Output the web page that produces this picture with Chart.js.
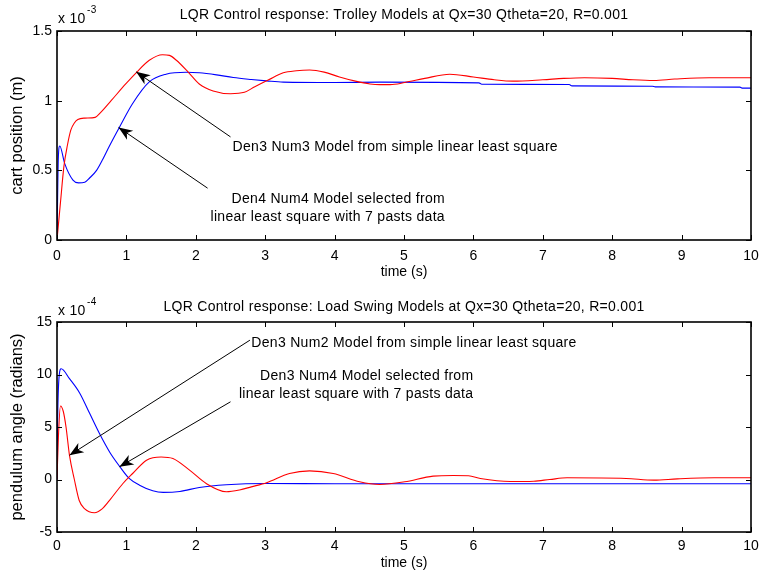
<!DOCTYPE html>
<html>
<head>
<meta charset="utf-8">
<script src="https://cdn.jsdelivr.net/npm/chart.js@4.4.0/dist/chart.umd.min.js"></script>
<style>
body{margin:0;background:#fff;}
.box{width:760px;height:287px;position:relative;}
</style>
</head>
<body>
<div class="box"><canvas id="trolley" width="760" height="287"></canvas></div>
<div class="box"><canvas id="swing" width="760" height="287"></canvas></div>
<script>
// cart position, units of 1e-3 m
const tCartRed = [0,0.05,0.1,0.15,0.2,0.25,0.3,0.4,0.55,0.62,0.78,0.99,1.14,1.33,1.52,1.62,1.72,1.9,2.05,2.25,2.5,2.7,2.85,3.05,3.26,3.45,3.64,3.85,4.07,4.3,4.51,4.65,4.8,5.01,5.3,5.66,6.0,6.3,6.57,7.0,7.3,7.6,8.0,8.3,8.6,8.9,9.4,10]
const cartRed = [0,0.27,0.53,0.68,0.79,0.84,0.865,0.875,0.88,0.91,1.0,1.12,1.2,1.29,1.33,1.325,1.29,1.2,1.12,1.07,1.05,1.06,1.1,1.15,1.2,1.215,1.22,1.205,1.17,1.14,1.12,1.115,1.115,1.13,1.16,1.19,1.17,1.15,1.14,1.15,1.16,1.165,1.16,1.15,1.145,1.155,1.165,1.165]
const tCartBlue = [0,0.02,0.04,0.11,0.23,0.31,0.4,0.47,0.57,0.66,0.75,0.9,1.09,1.33,1.57,1.86,2.05,2.3,2.54,2.8,3.02,3.26,4.0,4.65,6.08,6.12,7.38,7.42,8.58,8.62,9.84,9.88,10]
const cartBlue = [0,0.6,0.675,0.55,0.43,0.41,0.415,0.445,0.5,0.58,0.67,0.81,0.98,1.135,1.19,1.204,1.2,1.185,1.166,1.152,1.142,1.133,1.13,1.133,1.128,1.118,1.116,1.106,1.104,1.099,1.097,1.09,1.09]

// pendulum angle, units of 1e-4 rad
const tSwingRed = [0,0.02,0.05,0.09,0.13,0.18,0.25,0.32,0.4,0.54,0.65,0.76,0.95,1.09,1.29,1.5,1.67,1.91,2.15,2.44,2.63,2.8,3.02,3.35,3.64,3.98,4.36,4.65,5.01,5.42,5.71,5.93,6.1,6.53,6.87,7.1,7.35,8.2,8.6,8.94,9.47,10]
const swingRed = [0,4,7.0,6.5,5.0,2.3,0,-2.0,-2.8,-3.16,-2.8,-1.96,-0.38,0.57,1.84,2.15,2.0,0.89,-0.38,-1.17,-1.0,-0.7,-0.3,0.57,0.82,0.57,-0.22,-0.47,-0.22,0.32,0.38,0.36,0.1,-0.19,-0.16,0,0.16,0.1,-0.06,0.06,0.16,0.16]
const tSwingBlue = [0,0.01,0.03,0.06,0.18,0.33,0.47,0.61,0.76,0.9,1.04,1.19,1.38,1.53,1.77,2.05,2.44,3.02,4.0,10]
const swingBlue = [0,6,9.8,10.55,9.6,8.2,6.3,4.4,2.6,1.27,0.1,-0.54,-1.08,-1.23,-1.14,-0.76,-0.5,-0.38,-0.4,-0.41]

const xTicks = [0,1,2,3,4,5,6,7,8,9,10]
const cartTicks = [0,0.5,1,1.5]
const swingTicks = [-5,0,5,10,15]

const FONT = '"Liberation Sans", Arial, sans-serif'

function pts(ts, vs){
    return ts.map((t,i) => ({x:t, y:vs[i]}))
}

function drawArrow(ctx, x0, y0, x1, y1){
    ctx.beginPath()
    ctx.moveTo(x0,y0)
    ctx.lineTo(x1,y1)
    ctx.stroke()
    const a = Math.atan2(y1-y0, x1-x0)
    const len = 14, half = 5.5
    const bx = x1 - len*Math.cos(a), by = y1 - len*Math.sin(a)
    const nx = -Math.sin(a), ny = Math.cos(a)
    ctx.beginPath()
    ctx.moveTo(x1,y1)
    ctx.lineTo(bx + nx*half, by + ny*half)
    ctx.lineTo(x1 - (len-4)*Math.cos(a), y1 - (len-4)*Math.sin(a))
    ctx.lineTo(bx - nx*half, by - ny*half)
    ctx.closePath()
    ctx.fill()
}

// matlab-ish box, inward ticks, title, exponent and the text arrows
const matlabAxes = {
    id: 'matlabAxes',
    afterDraw(chart, args, opts){
        const {ctx, chartArea: a, scales: {x, y}} = chart
        ctx.save()
        ctx.strokeStyle = '#000'
        ctx.fillStyle = '#000'
        ctx.lineWidth = 1
        x.ticks.forEach(t => {
            const px = Math.round(x.getPixelForValue(t.value)) + 0.5
            ctx.beginPath()
            ctx.moveTo(px, a.bottom); ctx.lineTo(px, a.bottom - 5)
            ctx.moveTo(px, a.top); ctx.lineTo(px, a.top + 5)
            ctx.stroke()
        })
        y.ticks.forEach(t => {
            const py = Math.round(y.getPixelForValue(t.value)) + 0.5
            ctx.beginPath()
            ctx.moveTo(a.left, py); ctx.lineTo(a.left + 5, py)
            ctx.moveTo(a.right, py); ctx.lineTo(a.right - 5, py)
            ctx.stroke()
        })
        ctx.lineWidth = 1.6
        ctx.strokeRect(a.left, a.top, a.right - a.left, a.bottom - a.top)

        ctx.letterSpacing = '0.3px'
        ctx.font = '14px ' + FONT
        ctx.textBaseline = 'middle'
        ctx.textAlign = 'center'
        ctx.fillText(opts.title, (a.left + a.right)/2, opts.titleY)

        ctx.textAlign = 'left'
        ctx.fillText('x 10', a.left + 1, opts.titleY + 4)
        ctx.font = '10px ' + FONT
        ctx.fillText(opts.exponent, a.left + 30, opts.titleY - 5)

        ctx.font = '14px ' + FONT
        ctx.lineWidth = 1
        opts.notes.forEach(n => {
            ctx.textAlign = n.align
            n.lines.forEach((line, i) => {
                ctx.fillText(line, x.getPixelForValue(n.at[0]), y.getPixelForValue(n.at[1]) + i*18)
            })
            drawArrow(ctx, x.getPixelForValue(n.from[0]), y.getPixelForValue(n.from[1]),
                           x.getPixelForValue(n.to[0]), y.getPixelForValue(n.to[1]))
        })
        ctx.restore()
    }
}

function createChart(id, red, blue, yMin, yMax, yTicks, yLabel, pad, titleSet){
    const ctx = document.getElementById(id).getContext('2d')
    return new Chart(ctx, {
        type: 'scatter',
        data: {
            datasets: [
                {data: red, borderColor: '#ff0000', borderWidth: 1.1, showLine: true, pointRadius: 0, cubicInterpolationMode: 'monotone'},
                {data: blue, borderColor: '#0000ff', borderWidth: 1.1, showLine: true, pointRadius: 0, cubicInterpolationMode: 'monotone'}
            ]
        },
        options: {
            responsive: false,
            animation: false,
            devicePixelRatio: 1,
            layout: {padding: {left: 0, right: 9, top: pad.top, bottom: 0}},
            plugins: {
                legend: {display: false},
                tooltip: {enabled: false},
                matlabAxes: titleSet
            },
            scales: {
                x: {
                    type: 'linear', min: 0, max: 10,
                    afterBuildTicks: s => { s.ticks = xTicks.map(v => ({value: v})) },
                    grid: {display: false, drawTicks: false}, border: {display: false},
                    ticks: {color: '#000', padding: pad.xTick, font: {family: FONT, size: 14}, maxRotation: 0, callback: v => String(v)},
                    title: {display: true, text: 'time (s)', color: '#000', font: {family: FONT, size: 14}, padding: {top: 0, bottom: pad.xTitle}},
                    afterFit: s => { s.height = pad.xHeight; s.paddingLeft = 0; s.paddingRight = 0 }
                },
                y: {
                    min: yMin, max: yMax,
                    afterBuildTicks: s => { s.ticks = yTicks.map(v => ({value: v})) },
                    grid: {display: false, drawTicks: false}, border: {display: false},
                    ticks: {color: '#000', padding: 5, font: {family: FONT, size: 14}, callback: v => String(v)},
                    title: {display: true, text: yLabel, color: '#000', font: {family: FONT, size: 16.5}, padding: {top: 8, bottom: 0}},
                    afterFit: s => { s.width = 57; s.paddingTop = 0; s.paddingBottom = 0 }
                }
            }
        },
        plugins: [matlabAxes]
    })
}

createChart('trolley', pts(tCartRed, cartRed), pts(tCartBlue, cartBlue), 0, 1.5, cartTicks,
    'cart position (m)', {top: 31, xHeight: 47, xTick: 8, xTitle: 6},
    {
        title: 'LQR Control response: Trolley Models at Qx=30 Qtheta=20, R=0.001',
        titleY: 15,
        exponent: '-3',
        notes: [
            {lines: ['Den3 Num3 Model from simple linear least square'], align: 'left', at: [2.53, 0.67], from: [2.5, 0.74], to: [1.14, 1.207]},
            {lines: ['Den4 Num4 Model selected from', 'linear least square with 7 pasts data'], align: 'right', at: [5.59, 0.296], from: [2.17, 0.372], to: [0.887, 0.808]}
        ]
    })

createChart('swing', pts(tSwingRed, swingRed), pts(tSwingBlue, swingBlue), -5, 15, swingTicks,
    'pendulum angle (radians)', {top: 35, xHeight: 42, xTick: 6, xTitle: 2},
    {
        title: 'LQR Control response: Load Swing Models at Qx=30 Qtheta=20, R=0.001',
        titleY: 20,
        exponent: '-4',
        notes: [
            {lines: ['Den3 Num2 Model from simple linear least square'], align: 'left', at: [2.8, 12.95], from: [2.78, 13.27], to: [0.18, 2.31]},
            {lines: ['Den3 Num4 Model selected from', 'linear least square with 7 pasts data'], align: 'right', at: [6.0, 9.8], from: [2.5, 7.4], to: [0.9, 1.21]}
        ]
    })
</script>
</body>
</html>
